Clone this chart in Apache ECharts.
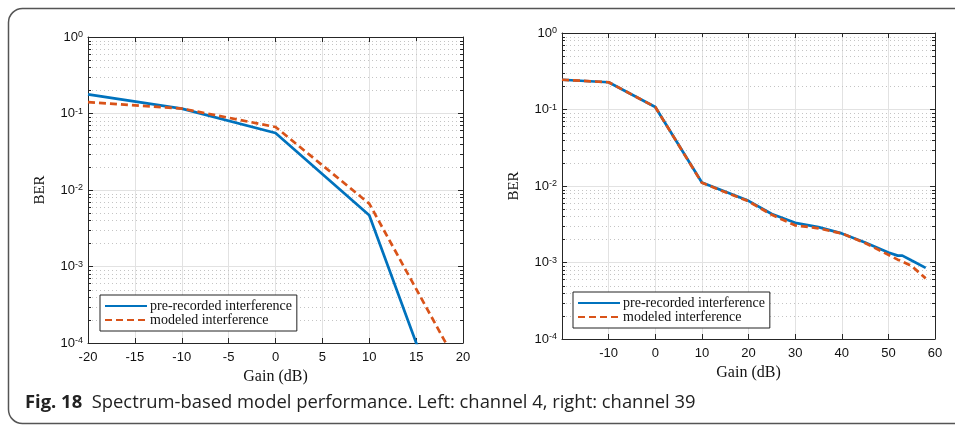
<!DOCTYPE html>
<html>
<head>
<meta charset="utf-8">
<script src="https://cdn.jsdelivr.net/npm/echarts@6/dist/echarts.min.js"></script>
<style>
  html, body { margin: 0; padding: 0; background: #fff; }
  #main { width: 955px; height: 426px; }
</style>
</head>
<body>
<div id="main"></div>
<script>
// left panel: channel 4
var leftGain = [-20, -10, 0, 10, 15, 20];
var leftPre = [0.178, 0.116, 0.0556, 0.00467, 0.000101, 0.0000022];
var leftModel = [0.141, 0.116, 0.0667, 0.00664, 0.00051, 0.000039];
// right panel: channel 39
var rightGain = [-20, -10, 0, 10, 20, 25, 30, 35, 40, 45, 50, 52, 53, 55, 58];
var rightPre = [0.245, 0.227, 0.108, 0.0111, 0.0064, 0.0043, 0.0033, 0.0029, 0.0024, 0.00183, 0.00135, 0.00123, 0.00123, 0.00106, 0.00085];
var rightModel = [0.245, 0.227, 0.108, 0.0110, 0.0063, 0.0042, 0.00306, 0.0028, 0.0024, 0.0018, 0.00126, 0.00109, 0.00103, 0.0009, 0.00062];

var leftTicks = [-20, -15, -10, -5, 0, 5, 10, 15, 20];
var rightTicks = [-10, 0, 10, 20, 30, 40, 50, 60];
var decadeExps = [-4, -3, -2, -1, 0];
var minorSteps = [2, 3, 4, 5, 6, 7, 8, 9];

var seriesNames = ['pre-recorded interference', 'modeled interference'];
var blue = '#0072BD', orange = '#D95319';
var axisCol = '#262626';
var tickFont = 'Liberation Sans';
var serif = 'Liberation Serif';

var minorVals = [];
decadeExps.slice(0, -1).forEach(function (e) {
  minorSteps.forEach(function (m) { minorVals.push(m * Math.pow(10, e)); });
});

function zip(xs, ys) {
  return xs.map(function (x, i) { return [x, ys[i]]; });
}

function sup(v) {
  var e = Math.round(Math.log10(v));
  return '{b|10}{s|' + e + '}';
}

function xAxisPair(gridIndex, ticks, hideFirst) {
  var min = ticks[0] - (hideFirst ? 10 : 0);
  var max = ticks[ticks.length - 1];
  var step = ticks[1] - ticks[0];
  var base = {
    gridIndex: gridIndex, type: 'value', min: min, max: max, interval: step,
    axisLine: { onZero: false, lineStyle: { color: axisCol, width: 1 } },
    axisTick: { inside: true, length: 5, lineStyle: { color: axisCol } }
  };
  return [
    Object.assign({}, base, {
      position: 'bottom',
      name: 'Gain (dB)', nameLocation: 'middle', nameGap: 24,
      nameTextStyle: { fontFamily: serif, fontSize: 16, color: '#111' },
      axisLabel: {
        margin: 8, fontFamily: tickFont, fontSize: 13, color: '#111',
        formatter: function (v) { return (hideFirst && v === min) ? '' : String(v); }
      },
      splitLine: { show: true, lineStyle: { color: '#e2e2e2', width: 1 } }
    }),
    Object.assign({}, base, {
      position: 'top', axisLabel: { show: false }, splitLine: { show: false }
    })
  ];
}

function yAxisPair(gridIndex) {
  var base = {
    gridIndex: gridIndex, type: 'log', logBase: 10, min: 1e-4, max: 1,
    axisLine: { show: true, onZero: false, lineStyle: { color: axisCol, width: 1 } },
    axisTick: { show: true, inside: true, length: 5, lineStyle: { color: axisCol } }
  };
  return [
    Object.assign({}, base, {
      position: 'left',
      name: 'BER', nameLocation: 'middle', nameGap: 40,
      nameTextStyle: { fontFamily: serif, fontSize: 15, color: '#111' },
      axisLabel: {
        margin: 5, formatter: sup,
        rich: {
          b: { fontFamily: tickFont, fontSize: 13, color: '#111', verticalAlign: 'bottom', lineHeight: 13 },
          s: { fontFamily: tickFont, fontSize: 9, color: '#111', verticalAlign: 'top', lineHeight: 9, padding: [0, 0, 8, 0] }
        }
      },
      splitLine: { show: true, lineStyle: { color: '#e2e2e2', width: 1 } }
    }),
    Object.assign({}, base, {
      position: 'right', axisLabel: { show: false }, splitLine: { show: false }
    })
  ];
}

// dotted minor grid + minor ticks on both y axes
function minorSeries(xi, yi, x0) {
  return {
    type: 'custom', xAxisIndex: xi, yAxisIndex: yi, silent: true, z: 1,
    data: minorVals.map(function (v) { return [x0, v]; }),
    renderItem: function (params, api) {
      var p = api.coord([api.value(0), api.value(1)]);
      var cs = params.coordSys;
      var y = Math.round(p[1]) + 0.5;
      return {
        type: 'group',
        children: [
          { type: 'line', shape: { x1: cs.x, y1: y, x2: cs.x + cs.width, y2: y },
            style: { stroke: '#c4c4c4', lineWidth: 1, lineDash: [1, 3] } },
          { type: 'line', shape: { x1: cs.x, y1: y, x2: cs.x + 3, y2: y },
            style: { stroke: axisCol, lineWidth: 1 } },
          { type: 'line', shape: { x1: cs.x + cs.width - 3, y1: y, x2: cs.x + cs.width, y2: y },
            style: { stroke: axisCol, lineWidth: 1 } }
        ]
      };
    }
  };
}

function lineSeries(name, xi, yi, data, color, dashed) {
  return {
    name: name, type: 'line', xAxisIndex: xi, yAxisIndex: yi,
    data: data, symbol: 'none', z: 5, animation: false,
    lineStyle: { color: color, width: 2.7, type: dashed ? [7, 4] : 'solid' },
    itemStyle: { color: color }
  };
}

function legendBox(left, top) {
  return {
    orient: 'vertical', left: left, top: top,
    data: seriesNames,
    itemWidth: 42, itemHeight: 10, itemGap: 0,
    padding: [4, 5, 4, 4],
    borderColor: '#222', borderWidth: 1, backgroundColor: '#fff',
    itemStyle: { opacity: 0 },
    textStyle: { fontFamily: serif, fontSize: 14, lineHeight: 14, color: '#111', padding: [0, 0, 0, -2] },
    selectedMode: false
  };
}

var chart = echarts.init(document.getElementById('main'), null, { renderer: 'canvas' });

var option = {
  animation: false,
  backgroundColor: '#fff',
  grid: [
    { left: 88, top: 37, width: 375, height: 306 },
    { left: 562, top: 33, width: 373, height: 306 }
  ],
  xAxis: xAxisPair(0, leftTicks, false).concat(xAxisPair(1, rightTicks, true)),
  yAxis: yAxisPair(0).concat(yAxisPair(1)),
  legend: [legendBox(100, 295), legendBox(573, 292)],
  series: [
    minorSeries(0, 0, leftTicks[0]),
    minorSeries(2, 2, rightTicks[0]),
    lineSeries(seriesNames[0], 0, 0, zip(leftGain, leftPre), blue, false),
    lineSeries(seriesNames[1], 0, 0, zip(leftGain, leftModel), orange, true),
    lineSeries(seriesNames[0], 2, 2, zip(rightGain, rightPre), blue, false),
    lineSeries(seriesNames[1], 2, 2, zip(rightGain, rightModel), orange, true)
  ],
  graphic: [
    {
      type: 'rect', silent: true, z: 0,
      shape: { x: 8.5, y: 8.5, width: 1000, height: 415, r: 14 },
      style: { fill: 'none', stroke: '#555', lineWidth: 1.5 }
    },
    {
      type: 'text', left: 25, top: 394, silent: true,
      style: {
        text: '{b|Fig. 18}  Spectrum-based model performance. Left: channel 4, right: channel 39',
        fontFamily: 'Open Sans', fontSize: 18.4, fill: '#222',
        rich: { b: { fontFamily: 'Open Sans', fontWeight: 'bold', fontSize: 18.4, fill: '#222' } }
      }
    }
  ]
};

chart.setOption(option);
</script>
</body>
</html>
